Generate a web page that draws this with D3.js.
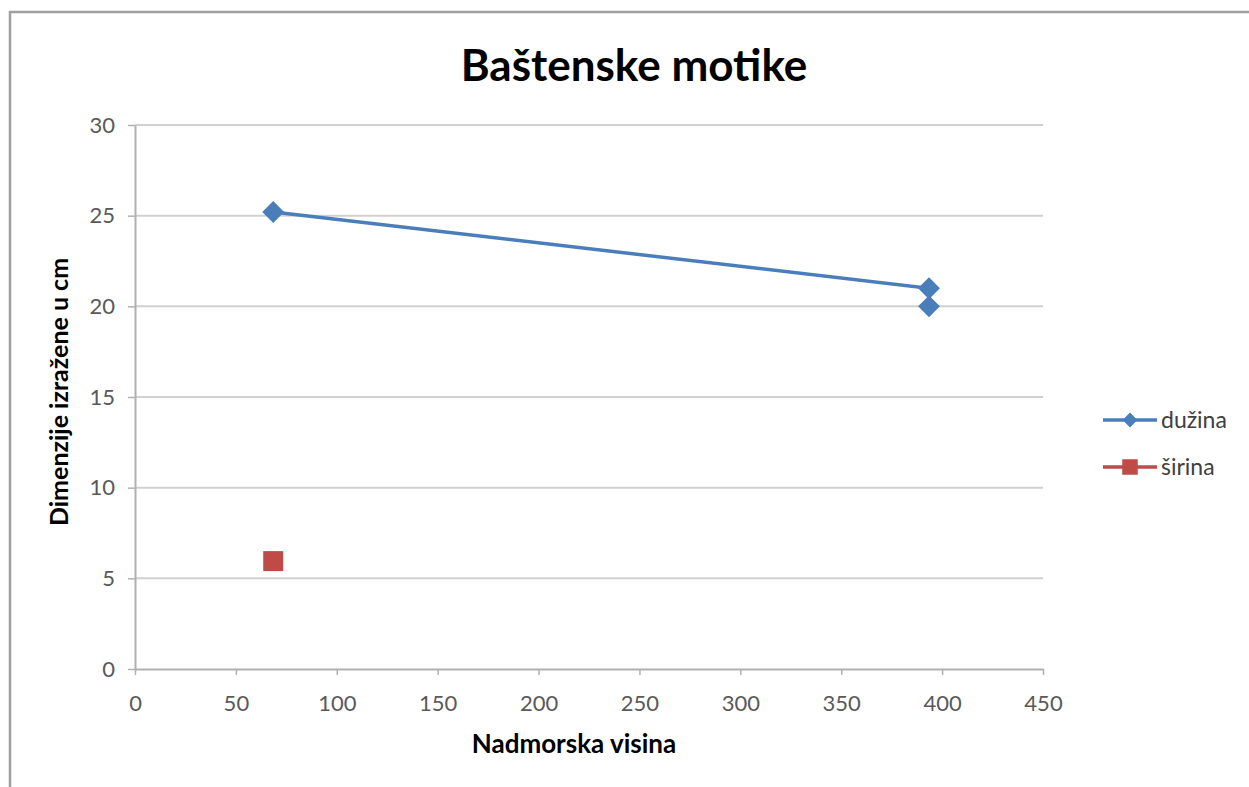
<!DOCTYPE html>
<html>
<head>
<meta charset="utf-8">
<script src="https://cdn.jsdelivr.net/npm/d3@7"></script>
<style>
  body { margin: 0; background: #fff; }
  svg { display: block; font-family: Lato, "Open Sans", sans-serif; }
</style>
</head>
<body>
<div id="chart"></div>
<script>
// data
var duzinaX = [68.5, 393.5, 393.5];
var duzinaY = [25.2, 21, 20];
var sirinaX = [68.5];
var sirinaY = [5.95];
var xTicks = [0, 50, 100, 150, 200, 250, 300, 350, 400, 450];
var yTicks = [0, 5, 10, 15, 20, 25, 30];
var seriesNames = ['dužina', 'širina'];

var svg = d3.select('#chart').append('svg')
    .attr('width', 1249)
    .attr('height', 787);

// chart frame, runs off the right and bottom edge
svg.append('rect')
  .attr('x', 10).attr('y', 12)
  .attr('width', 1300).attr('height', 900)
  .attr('fill', '#fff')
  .attr('stroke', '#a0a0a0')
  .attr('stroke-width', 2.5);

var x = d3.scaleLinear().domain([0, 450]).range([135, 1043]),
    y = d3.scaleLinear().domain([0, 30]).range([669, 125]);

// gridlines
svg.append('g')
  .selectAll('line')
  .data(yTicks.filter(function(d) { return d > 0; }))
  .enter().append('line')
    .attr('x1', x(0)).attr('x2', x(450))
    .attr('y1', function(d) { return y(d); })
    .attr('y2', function(d) { return y(d); })
    .style('stroke', '#d0d0d0')
    .style('stroke-width', 2);

var xAxis = svg.append('g')
  .attr('transform', 'translate(0,' + y(0) + ')')
  .call(d3.axisBottom(x).tickValues(xTicks).tickSize(6).tickSizeOuter(0));

var yAxis = svg.append('g')
  .attr('transform', 'translate(' + x(0) + ',0)')
  .call(d3.axisLeft(y).tickValues(yTicks).tickSize(7).tickSizeOuter(0));

[xAxis, yAxis].forEach(function(a) {
  a.select('.domain').style('stroke', '#b0b0b0').style('stroke-width', 2);
  a.selectAll('.tick line').style('stroke', '#b0b0b0').style('stroke-width', 1.5);
  a.selectAll('.tick text')
    .style('font-size', '22px')
    .style('fill', '#595959')
    .style('font-family', 'Lato, "Open Sans", sans-serif');
});
xAxis.selectAll('.tick text').attr('y', 42).attr('dy', 0);
yAxis.selectAll('.tick text').attr('x', -20);

// title
svg.append('text')
  .attr('x', 634).attr('y', 81)
  .attr('text-anchor', 'middle')
  .style('font-size', '44px')
  .style('font-weight', 'bold')
  .style('fill', '#000')
  .text('Baštenske motike');

// axis titles
svg.append('text')
  .attr('x', 574).attr('y', 753)
  .attr('text-anchor', 'middle')
  .style('font-size', '26px')
  .style('font-weight', 'bold')
  .text('Nadmorska visina');

svg.append('text')
  .attr('transform', 'translate(68,392) rotate(-90)')
  .attr('text-anchor', 'middle')
  .style('font-size', '25px')
  .style('font-weight', 'bold')
  .text('Dimenzije izražene u cm');

var blue = '#4a7ebb', red = '#be4b48';

var duzina = duzinaX.map(function(d, i) { return [d, duzinaY[i]]; });
var sirina = sirinaX.map(function(d, i) { return [d, sirinaY[i]]; });

var line = d3.line()
  .x(function(d) { return x(d[0]); })
  .y(function(d) { return y(d[1]); });

svg.append('path')
  .datum(duzina)
  .attr('d', line)
  .attr('fill', 'none')
  .style('stroke', blue)
  .style('stroke-width', 3.5);

// diamond = square turned 45 degrees
var diamond = d3.symbol().type(d3.symbolSquare).size(240);
var square = d3.symbol().type(d3.symbolSquare).size(400);

svg.append('g').selectAll('path')
  .data(duzina)
  .enter().append('path')
    .attr('d', diamond)
    .attr('transform', function(d) { return 'translate(' + x(d[0]) + ',' + y(d[1]) + ') rotate(45)'; })
    .attr('fill', blue);

svg.append('g').selectAll('path')
  .data(sirina)
  .enter().append('path')
    .attr('d', square)
    .attr('transform', function(d) { return 'translate(' + x(d[0]) + ',' + y(d[1]) + ')'; })
    .attr('fill', red);

// legend
var legend = svg.append('g').selectAll('g')
  .data(seriesNames)
  .enter().append('g')
    .attr('transform', function(d, i) { return 'translate(1103,' + (420 + i * 47) + ')'; });

legend.append('line')
  .attr('x1', 0).attr('x2', 54)
  .style('stroke', function(d, i) { return i ? red : blue; })
  .style('stroke-width', 3.5);

legend.append('path')
  .attr('transform', function(d, i) { return 'translate(27,0)' + (i ? '' : ' rotate(45)'); })
  .attr('d', function(d, i) { return d3.symbol().type(d3.symbolSquare).size(i ? 240 : 110)(); })
  .attr('fill', function(d, i) { return i ? red : blue; });

legend.append('text')
  .attr('x', 58).attr('y', 8)
  .style('font-size', '23px')
  .style('fill', '#404040')
  .text(function(d) { return d; });
</script>
</body>
</html>
